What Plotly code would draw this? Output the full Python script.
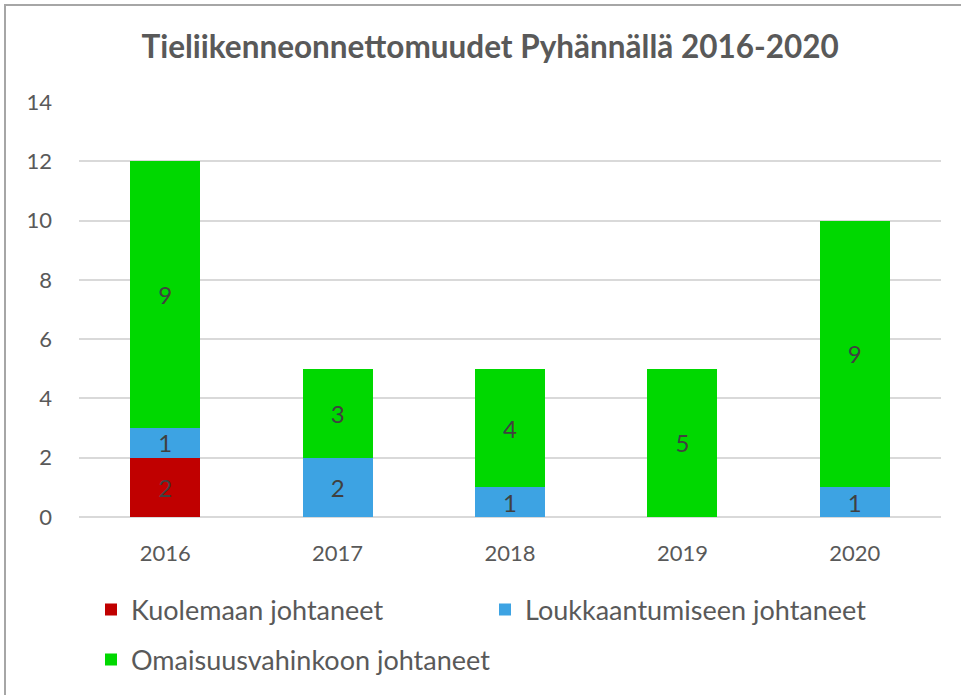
import plotly.graph_objects as go

years = ["2016", "2017", "2018", "2019", "2020"]
kuolemaan = [2, 0, 0, 0, 0]
loukkaantumiseen = [1, 2, 1, 0, 1]
omaisuus = [9, 3, 4, 5, 9]
series_names = ["Kuolemaan johtaneet", "Loukkaantumiseen johtaneet", "Omaisuusvahinkoon johtaneet"]
colors = ["#C00000", "#3DA3E3", "#00D800"]
y_ticks = [0, 2, 4, 6, 8, 10, 12, 14]

FONT = "Lato"
W, H = 961, 695
L, R, T, B = 79, 20, 102, 178

pw = W - L - R
ph = H - T - B
def px2x(px):
    return (px - L) / pw
def py2y(py):
    return (H - B - py) / ph

fig = go.Figure()
legends = ["legend", "legend", "legend2"]
for name, vals, col, lg in zip(series_names, [kuolemaan, loukkaantumiseen, omaisuus], colors, legends):
    fig.add_trace(go.Bar(
        x=years, y=vals, name=name, legend=lg,
        marker=dict(color=col, line=dict(width=0)),
        text=[str(v) if v else "" for v in vals],
        textposition="inside", insidetextanchor="middle", textangle=0,
        textfont=dict(family=FONT, size=24, color="#404040"),
        constraintext="none",
    ))

legend_font = dict(family=FONT, size=27, color="#595959")

fig.update_layout(
    width=W, height=H,
    barmode="stack", bargap=0.595,
    margin=dict(l=L, r=R, t=T, b=B, autoexpand=False),
    paper_bgcolor="white", plot_bgcolor="white",
    font=dict(family=FONT, color="#595959"),
    title=dict(text="<b>Tieliikenneonnettomuudet Pyhännällä 2016-2020</b>",
               x=0.51, xanchor="center", y=1 - 47 / H, yanchor="middle",
               font=dict(family=FONT, size=31.5, color="#595959")),
    xaxis=dict(showgrid=False, showline=False, ticks="", automargin=False,
               tickfont=dict(family=FONT, size=22, color="#595959"),
               ticklabelstandoff=21),
    yaxis=dict(range=[0, 14], tickvals=y_ticks, showgrid=True, automargin=False,
               gridcolor="#D9D9D9", gridwidth=1.5, zeroline=True,
               zerolinecolor="#D9D9D9", zerolinewidth=1.5, ticks="",
               tickfont=dict(family=FONT, size=22, color="#595959"),
               ticklabelstandoff=26),
    legend=dict(orientation="h", xanchor="left", yanchor="middle",
                x=px2x(91), y=py2y(610),
                entrywidth=349, entrywidthmode="pixels",
                font=legend_font, traceorder="normal", bgcolor="rgba(0,0,0,0)"),
    legend2=dict(orientation="h", xanchor="left", yanchor="middle",
                 x=px2x(91), y=py2y(660),
                 font=legend_font, traceorder="normal", bgcolor="rgba(0,0,0,0)"),
    shapes=[dict(type="rect", xref="paper", yref="paper",
                 x0=px2x(5), x1=px2x(975), y0=py2y(710), y1=py2y(5),
                 line=dict(color="#A6A6A6", width=2), fillcolor="rgba(0,0,0,0)",
                 layer="above")],
)

fig.write_html("out.html", config={"displayModeBar": False},
               post_script="document.body.style.margin='0';")
